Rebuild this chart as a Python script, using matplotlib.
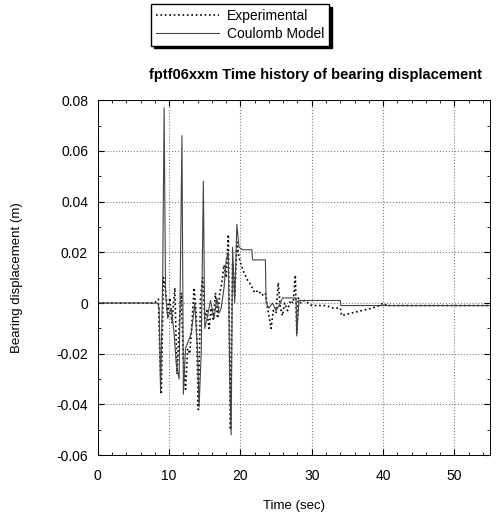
import matplotlib
matplotlib.use('Agg')
import matplotlib.pyplot as plt
from matplotlib.ticker import MultipleLocator, FormatStrFormatter

plt.rcParams['font.family'] = ['Liberation Sans Narrow', 'Liberation Sans', 'DejaVu Sans']
plt.rcParams['axes.unicode_minus'] = False

# Experimental (measured) bearing displacement
t_exp = [0, 8.0, 8.3, 8.5, 8.7, 8.9, 9.2, 9.5, 9.8, 10.1, 10.4, 10.8, 11.1, 11.4, 11.7,
         12.0, 12.3, 12.6, 12.9, 13.2, 13.5, 13.8, 14.1, 14.4, 14.7, 15.0, 15.3, 15.6,
         15.9, 16.2, 16.5, 16.8, 17.1, 17.4, 17.7, 18.0, 18.3, 18.6, 18.9, 19.2, 19.5,
         19.8, 20.1, 20.5, 21.0, 21.5, 22.0, 22.5, 23.0, 23.5, 23.8, 24.0, 24.3, 24.6,
         25.0, 25.3, 25.6, 25.9, 26.2, 26.6, 27.0, 27.4, 27.7, 27.9, 28.1, 28.5, 29.0,
         30.0, 31.0, 32.0, 33.0, 34.0, 34.2, 35.5, 37.0, 38.5, 39.5, 40.0, 40.5, 42.0, 55.0]
d_exp = [0, 0, 0.001, 0.0015, -0.02, -0.036, 0.01, 0.005, -0.004, 0.002, -0.008, 0.006,
         -0.028, -0.01, 0.004, -0.022, -0.034, -0.018, -0.02, -0.008, 0.006, -0.004,
         -0.042, 0.002, 0.01, -0.006, -0.003, -0.01, -0.002, -0.007, 0.004, -0.006, 0.004,
         0.008, 0.015, 0.01, 0.027, -0.05, 0.016, 0.003, 0.024, 0.018, 0.015, 0.012, 0.009,
         0.007, 0.004, 0.005, 0.003, 0.004, -0.002, -0.005, -0.01, -0.003, -0.004, 0.008,
         -0.002, -0.005, 0.0, -0.003, 0.001, 0.0, 0.011, -0.012, 0.002, 0.0, 0.001, -0.001,
         -0.001, -0.001, -0.002, -0.002, -0.005, -0.004, -0.003, -0.002, -0.001, 0.0,
         -0.001, -0.001, -0.001]

# Coulomb model prediction
t_mod = [0, 8.4, 8.6, 8.8, 9.1, 9.3, 9.5, 9.8, 10.3, 10.7, 11.0, 11.4, 11.8, 12.0, 12.3,
         12.7, 13.1, 13.6, 14.0, 14.2, 14.5, 14.8, 15.0, 15.4, 15.8, 16.3, 16.7, 17.0,
         17.3, 17.7, 18.0, 18.3, 18.5, 18.7, 18.9, 19.2, 19.5, 19.8, 20.3, 21.6, 21.7,
         23.5, 23.6, 24.0, 24.5, 25.0, 25.6, 25.9, 27.8, 27.9, 28.2, 34.0, 34.1, 55.0]
d_mod = [0, 0, -0.002, -0.035, 0.01, 0.077, 0.004, -0.006, -0.002, -0.012, -0.024, -0.03,
         0.066, -0.036, -0.018, -0.015, -0.012, 0.0, -0.02, -0.041, -0.02, 0.048, -0.01,
         -0.005, 0.001, -0.006, 0.002, -0.004, -0.002, 0.006, 0.017, 0.02, -0.03, -0.052,
         0.022, 0.0, 0.031, 0.022, 0.021, 0.021, 0.017, 0.017, 0.0, -0.002, 0.0, -0.003,
         0.0, 0.002, 0.002, -0.013, 0.001, 0.001, -0.001, -0.001]

fig = plt.figure(figsize=(4.99, 5.19), dpi=100)
ax = fig.add_axes([0.196, 0.123, 0.786, 0.684])

l1, = ax.plot(t_exp, d_exp, color='black', linestyle=':', linewidth=1.2, label='Experimental')
l2, = ax.plot(t_mod, d_mod, color='#444444', linestyle='-', linewidth=0.8, label='Coulomb Model')

ax.set_xlim(0, 55)
ax.set_ylim(-0.06, 0.08)
ax.xaxis.set_major_locator(MultipleLocator(10))
ax.xaxis.set_minor_locator(MultipleLocator(2))
ax.yaxis.set_major_locator(MultipleLocator(0.02))
ax.yaxis.set_minor_locator(MultipleLocator(0.01))
ax.yaxis.set_major_formatter(FormatStrFormatter('%g'))
ax.tick_params(which='both', direction='in', top=True, right=True, labelsize=10)
ax.tick_params(axis='x', which='major', length=4, pad=10)
ax.tick_params(axis='y', which='major', length=4, pad=7)
ax.tick_params(which='minor', length=2)
ax.grid(True, which='major', linestyle=':', color='gray', linewidth=0.8)
for s in ax.spines.values():
    s.set_linewidth(0.7)

ax.set_xlabel('Time (sec)', fontsize=9.5, labelpad=12)
ax.set_ylabel('Bearing displacement (m)', fontsize=9.5, labelpad=24)
fig.text(0.633, 0.855, 'fptf06xxm Time history of bearing displacement',
         ha='center', va='center', fontsize=10.5, fontweight='bold')

leg = fig.legend(handles=[l1, l2], loc='upper left', bbox_to_anchor=(0.298, 0.997),
                 fontsize=10, frameon=True, fancybox=False, handlelength=4.5,
                 borderpad=0.35, labelspacing=0.25, handletextpad=0.6, borderaxespad=0.2,
                 shadow={'color': 'black', 'alpha': 1.0, 'ox': 2, 'oy': -2})
leg.get_frame().set_edgecolor('black')
leg.get_frame().set_linewidth(1.0)

fig.savefig('out.png', dpi=100)
